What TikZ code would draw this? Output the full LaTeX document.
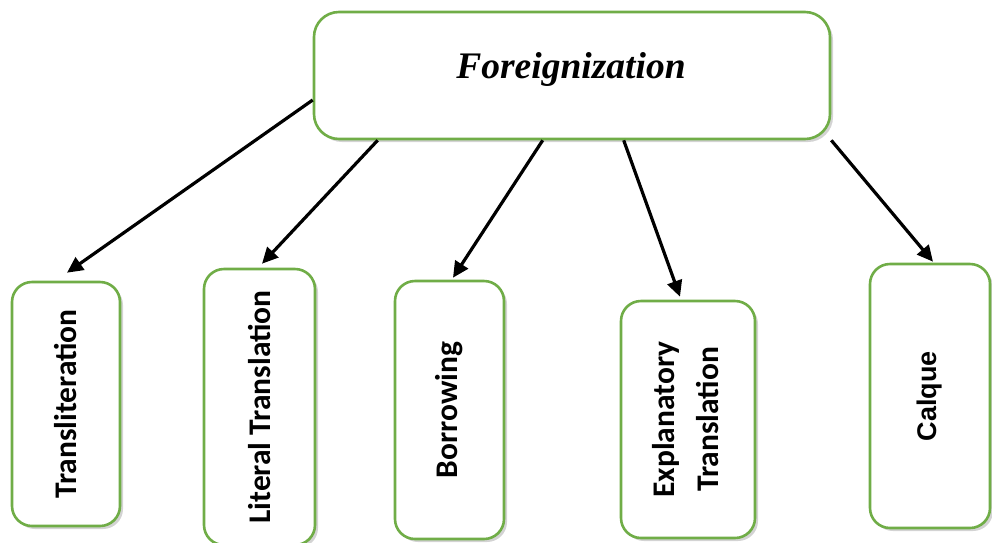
\documentclass[tikz,border=0pt]{standalone}
\usepackage{fontspec}
\newfontfamily\calib{Carlito}
\newfontfamily\tnr{Liberation Serif}
\newfontfamily\arl{Liberation Sans}
\usetikzlibrary{calc,arrows.meta,shadows}
\definecolor{boxgreen}{HTML}{70AD47}
\tikzset{
  gbox/.style={draw=boxgreen, line width=2.6pt, fill=white, rounded corners=20pt,
    inner sep=0pt, drop shadow={shadow xshift=3pt, shadow yshift=-3pt, opacity=0.35, fill=gray}},
  conn/.style={line width=3.2pt, -{Triangle[length=16pt,width=15pt]}},
  lbl/.style={font=\calib\bfseries\fontsize{31.5}{44}\selectfont, align=center}
}
\begin{document}
\begin{tikzpicture}[x=1pt,y=-1pt]
\useasboundingbox (0,0) rectangle (992,542);
% top box
\node[gbox, rounded corners=25pt, minimum width=516pt, minimum height=127pt] (top) at (572,75.5) {};
\node[font=\tnr\bfseries\itshape\fontsize{37.5}{44}\selectfont, anchor=base, inner sep=0pt] (toplbl) at (571,78.5) {Foreignization};
% bottom boxes
\node[gbox, lbl, minimum width=108pt, minimum height=244pt] (b1) at (66,404) {\rotatebox{90}{Transliteration}};
\node[gbox, lbl, minimum width=111pt, minimum height=276pt] (b2) at (259.5,407) {\rotatebox{90}{Literal Translation}};
\node[gbox, lbl, minimum width=109pt, minimum height=258pt] (b3) at (449.5,410) {\rotatebox{90}{Borrowing}};
\node[gbox, lbl, minimum width=134pt, minimum height=237pt] (b4) at (688,419.5) {\rotatebox{90}{\begin{tabular}{@{}c@{}}Explanatory\\Translation\end{tabular}}};
\node[gbox, minimum width=120pt, minimum height=264pt, font=\arl\bfseries\fontsize{27}{32}\selectfont] (b5) at (930,396) {\rotatebox{90}{Calque}};
% connectors
\draw[conn] ($(top.west)+(0,24.5)$) -- ($(b1.north)+(1,-8)$);
\draw[conn] ($(top.south west)+(65,0)$) -- ($(b2.north)+(2.5,-4)$);
\draw[conn] ($(top.south west)+(230,0)$) -- ($(b3.north)+(3.5,-2)$);
\draw[conn] ($(top.south west)+(311,0)$) -- ($(b4.north)+(-8,-3)$);
\draw[conn] (top.south east) -- ($(b5.north)+(3,-1)$);
\end{tikzpicture}
\end{document}
